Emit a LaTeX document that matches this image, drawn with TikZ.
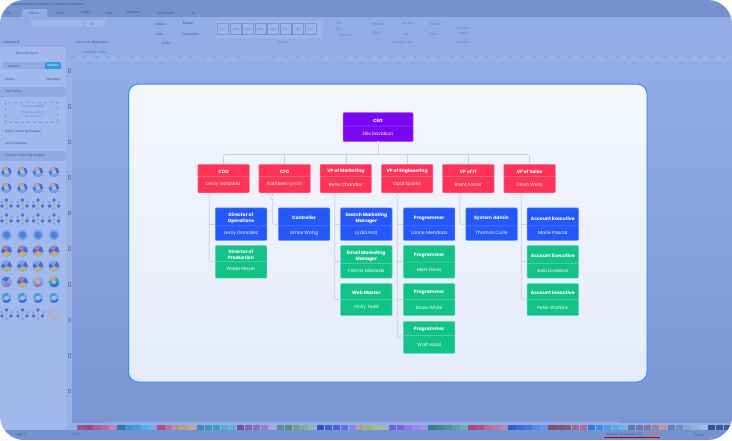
\documentclass[tikz,border=0pt]{standalone}
\usepackage{fontspec}
\setmainfont{Poppins}
\usetikzlibrary{shapes}
\definecolor{cardred}{HTML}{FF3358}
\definecolor{cardredline}{HTML}{FF7A93}
\definecolor{cardblue}{HTML}{2458FA}
\definecolor{cardblueline}{HTML}{5E8CFF}
\definecolor{cardgreen}{HTML}{12C287}
\definecolor{cardgreenline}{HTML}{5CDDB0}
\definecolor{cardviolet}{HTML}{7A06F2}
\definecolor{cardvioletline}{HTML}{A65AFB}
\definecolor{wirecol}{HTML}{C9CFDF}
\definecolor{uitext}{HTML}{3F5590}
\definecolor{uidim}{HTML}{6A82BE}
\definecolor{topband}{HTML}{7592CF}
\definecolor{ribbon}{HTML}{93ACE6}
\definecolor{sidebar}{HTML}{A3B9EE}
\definecolor{rowband}{HTML}{92A9E2}
\definecolor{rulercol}{HTML}{9AB1E8}
\definecolor{ringblue}{HTML}{3F6FD8}
\definecolor{ringsky}{HTML}{6FA6EC}
\definecolor{ringtan}{HTML}{C9A878}
\definecolor{ringrose}{HTML}{A878B8}
\definecolor{ringteal}{HTML}{2FA6B0}
\newcommand{\orgcard}[5][51.5]{\parbox[c][#2pt][c]{#1pt}{\vspace*{2.6pt}\centering\bfseries #3}\nodepart{two}\parbox[c][#4pt][c]{#1pt}{\centering #5}}
\newcommand{\donut}[6]{%
  \draw[line width=#6pt,#3] (#1,#2) circle[radius=3.8];
  \draw[line width=#6pt,#4] (#1,#2) ++(20:3.8) arc[start angle=20,end angle=140,radius=3.8];
  \draw[line width=#6pt,#5] (#1,#2) ++(200:3.8) arc[start angle=200,end angle=290,radius=3.8];}
\newcommand{\pie}[5]{%
  \fill[#3] (#1,#2) circle[radius=5.4];
  \fill[#4] (#1,#2) -- ++(20:5.4) arc[start angle=20,end angle=150,radius=5.4] -- cycle;
  \fill[#5] (#1,#2) -- ++(210:5.4) arc[start angle=210,end angle=300,radius=5.4] -- cycle;}
\newcommand{\cluster}[2]{%
  \fill[ringblue] (#1,#2-4) circle[radius=1.9] (#1-4.5,#2+2) circle[radius=1.9] (#1+4.5,#2+2) circle[radius=1.9];
  \fill[ringtan] (#1,#2) circle[radius=1.9];
  \fill[ringsky] (#1-5,#2-2) circle[radius=1.5] (#1+5,#2-2) circle[radius=1.5] (#1,#2+4.5) circle[radius=1.5];}
\begin{document}
\begin{tikzpicture}[x=1pt,y=-1pt,node distance=61.2pt,
    uilabel/.style={inner sep=0,text=uitext,font=\fontsize{3.2}{4}\selectfont},
    uidimlabel/.style={inner sep=0,text=uidim,font=\fontsize{3.2}{5}\selectfont,align=center},
    rulerlabel/.style={inner sep=0,text=uidim,font=\fontsize{2.4}{3}\selectfont},
    card/.style={rectangle split,rectangle split parts=2,inner sep=0,rounded corners=1pt,
      line width=.5pt,text=white,font=\fontsize{4.6}{6}\selectfont},
    ceocard/.style={card,fill=cardviolet,draw=cardvioletline},
    redcard/.style={card,fill=cardred,draw=cardredline},
    bluecard/.style={card,fill=cardblue,draw=cardblueline},
    greencard/.style={card,fill=cardgreen,draw=cardgreenline},
    knob/.style={circle,minimum size=3.6pt,inner sep=0,fill=white,draw=wirecol,line width=.4pt},
    wire/.style={draw=wirecol,line width=.7pt,rounded corners=2pt}]
  \useasboundingbox (0,0) rectangle (732,440);
  \fill[white] (0,0) rectangle (732,440);
  \begin{scope}
    \clip[rounded corners=24pt] (0,0) rectangle (732,440);
    \fill[topband] (0,0) rectangle (732,17);
    \fill[ribbon] (0,17) rectangle (732,47);
    \fill[ribbon] (0,47) rectangle (732,55);
    \shade[top color=ribbon,bottom color=topband!85!ribbon] (66,55) rectangle (732,430);
    \fill[rulercol] (72,55) rectangle (732,60.5);
    \fill[rulercol] (66,60) rectangle (72,423);
    \fill[sidebar] (0,47) rectangle (66,430);
    \fill[rowband] (0,87) rectangle (66,97);
    \fill[rowband] (0,151) rectangle (66,161);
    \fill[ribbon!80!sidebar] (66,423) rectangle (732,430);
    \fill[uidim!30!ribbon] (106,421) rectangle (620,423);
    \fill[topband] (0,430) rectangle (732,440);
    \fill[ribbon] (22,9) rectangle (47,17);
    \fill[sidebar!70!ribbon] (216,21) rectangle (322,38);
    % palette
    \foreach \c [count=\i from 0] in {8E4A78,A0396E,B0508C,B860A0,C080B8,1F6FA8,2E8FD0,2F9AE0,45B0EA,60B0F0,
        B83F7A,B86A8A,C09080,C0A060,C0B080,2A88A8,1F9AB8,20A0C0,45AAD8,55B0E0,
        70408F,8A50A8,9060B8,A070C8,B0A0E0,4F8A78,4A8A70,6FA070,80B080,98B8A8,
        2040C0,3050D0,4050E0,6060E8,8080F0,B8A060,A8B060,B0C070,A0C0A0,7050E0,
        8050E0,9070F0,A080F0,A090F0,207880,308080,3A9090,50A0A0,60B0B0,B03070,
        B84078,C06090,C07098,C080A8,2050C8,3060D8,3070E8,4A80F0,6090F0,704860,
        804860,8A4870,A06080,B06080,1A70E0,2A88F0,30A0F0,40B0F0,60B8F0,606A98,
        706A98,806A98,A07A90,C09098,6078B0,7088B8,88A0C8,98B0D8,A8C0E0,284080,
        2A4A88,2A5090}{
      \definecolor{palcol}{HTML}{\c}
      \fill[palcol!85!ribbon] (77.3+\i*7.98,424.5) rectangle ++(7.4,5);
    }
    % ruler
    \foreach \n in {-15,...,40}{
      \node[rulerlabel] (rul\n) at (250+\n*11.85,57.7) {\the\numexpr\n*10\relax};
    }
    \foreach \n in {1,...,10}{
      \draw[uidim,line width=.3pt] (68,33+\n*35.6) rectangle ++(2.6,3.5);
    }
    % sidebar charts
    \foreach \cy in {172,188}{
      \foreach \cx in {6.5,22.5,38,54}{
        \donut{\cx}{\cy}{ringblue}{ringsky}{ringtan}{2.4}
      }
    }
    \foreach \cy in {204,219}{
      \foreach \cx in {6.5,22.5,38,54}{
        \cluster{\cx}{\cy}
      }
    }
    \foreach \cx in {6.5,22.5,38,54}{
      \fill[ringsky] (\cx,235) circle[radius=5.4];
      \fill[ringblue!70!ringsky] (\cx,235) circle[radius=3.4];
      \pie{\cx}{251}{ringblue}{ringtan}{ringrose}
      \pie{\cx}{266}{ringblue}{ringtan}{ringsky}
      \donut{\cx}{298}{ringsky}{ringblue}{ringteal}{2.2}
    }
    \pie{6.5}{282}{ringsky}{ringrose}{ringblue}
    \pie{22.5}{282}{ringblue}{ringtan}{ringrose}
    \donut{38}{282}{ringsky}{ringrose}{ringtan}{3}
    \donut{54}{282}{ringteal}{ringblue}{ringtan}{3}
    \cluster{6.5}{314}
    \cluster{22.5}{314}
    \cluster{38}{314}
    \draw[ringtan,line width=.9pt] (54,314) circle[radius=5.2];
    % ribbon boxes
    \fill[sidebar!80!ribbon] (31,20) rectangle (82,27);
    \fill[sidebar!80!ribbon] (85,20) rectangle (105,27);
    \fill[rowband] (2,62) rectangle (45,69);
    \fill[ringblue!70!cyan,rounded corners=1pt] (45,62) rectangle (61,69);
    \draw[uidim!60!sidebar,dashed,line width=.3pt] (5,102) rectangle (57,122);
    \foreach \cx/\txt [count=\i] in {223/Abc,236/Abc,248/Abc,260.7/Abc,273/Abc,285.7/Abc,298/Abc,311/Abc}{
      \node[draw=uidim!60!ribbon,line width=.3pt,minimum size=11pt,rectangle,uidimlabel] (abc\i) at (\cx,29) {\txt};
    }
    \foreach \cx/\cy/\txt [count=\i] in {8/13/File,34/13/Home,60/13/Insert,85/13/Design,109/13/View,133/13/Symbols,166/13/Advanced,193/13/AI,
        48/4/Wondershare EdrawMax (Unlicensed Version),
        92/24/18,161/24/Select,188/24/Shape,159/34/Text,191/34/Connector,
        11/43/Clipboard,92/43/Font and Alignment,166/43/Tools,27/54/More Symbols,
        14/66/Search,10/80/Library,53/80/Manage,14/92/My Library,
        23/132/Basic Drawing Shapes,16/144/Arrow Shapes,25/156/Circular Charting Shapes,
        20/435/Page-1,624/435/Number of shapes: 50/60,699/435/Focus}{
      \node[uilabel] (ui\i) at (\cx,\cy) {\txt};
    }
    \foreach \cx/\cy/\txt [count=\i] in {339/23/Fill,339/29/Line,345/35/Shadow,378/24/Position,407/24/Group,435/24/Rotate,
        376/34/Align,406/34/Size,433/34/Lock,283/43/Styles,402/43/Arrangement,463/43/Replace,
        463/29/Replace,463/34/Shape,33/107/Drag symbols,33/112/here to add to,33/117/My Library}{
      \node[uidimlabel] (dim\i) at (\cx,\cy) {\txt};
    }
    \node[uilabel,text=white] (searchbtn) at (53,65.5) {Search};
    \node[uilabel,text=ringblue] (doctab) at (96,52) {Aviation Produ...};
    \node[uilabel,text=ringblue] (pagetab) at (78,435) {Page-1};
    \node[uilabel,text=orange!80!red] (buynow) at (655,435) {Buy Now};
    \draw[red!70!black,line width=.5pt] (604,437.3) -- (660,437.3);
    % card
    \shade[top color=white!90!ribbon,bottom color=white!76!ribbon,draw=blue!50!cyan!85!white,line width=1pt,rounded corners=10pt] (128.5,84) rectangle (647,382);
  \end{scope}

  \node[ceocard] (ceo) at (378,127) {\orgcard[70]{13}{CEO}{15}{Ellis Davidson}};

  \node[redcard] (cdo) at (223.5,178.5) {\orgcard{11.5}{CDO}{16}{Leroy Gonzalez}};
  \node[redcard] (cfo) [right of=cdo] {\orgcard{11.5}{CFO}{16}{Kathleen Lynch}};
  \node[redcard] (mkt) [right of=cfo] {\orgcard{11.5}{VP of Marketing}{16}{Rene Chandler}};
  \node[redcard] (eng) [right of=mkt] {\orgcard{11.5}{VP of Engineering}{16}{Opal Sparks}};
  \node[redcard] (vpit) [right of=eng] {\orgcard{11.5}{VP of IT}{16}{Brent Foster}};
  \node[redcard] (sales) [right of=vpit] {\orgcard{11.5}{VP of Sales}{16}{Devin Wells}};

  \node[bluecard] (ops) at (241,224.2) {\orgcard{17.5}{Director of\\Operations}{14}{Leroy Gonzalez}};
  \node[greencard] (prod) [below of=ops,node distance=37.6pt] {\orgcard{15.5}{Director of\\Production}{16}{Wade Meyer}};
  \node[bluecard] (ctrl) at (304,224.2) {\orgcard{17.5}{Controller}{14}{Amos Wong}};
  \node[bluecard] (search) at (366.3,224.2) {\orgcard{17.5}{Search Marketing\\Manager}{14}{Lydia Holt}};
  \node[greencard] (email) [below of=search,node distance=37.6pt] {\orgcard{17.5}{Email Marketing\\Manager}{14}{Fannie Edwards}};
  \node[greencard] (web) [below of=email,node distance=37.8pt] {\orgcard{15.5}{Web Master}{15.5}{Vicky Todd}};
  \node[bluecard] (prog1) at (429.2,224.2) {\orgcard{17.5}{Programmer}{14}{Lonce Mendoza}};
  \node[greencard] (prog2) [below of=prog1,node distance=37.6pt] {\orgcard{16}{Programmer}{15.5}{Mark Davis}};
  \node[greencard] (prog3) [below of=prog2,node distance=37.8pt] {\orgcard{15.5}{Programmer}{15.5}{Snow White}};
  \node[greencard] (prog4) [below of=prog3,node distance=37.8pt] {\orgcard{13.5}{Programmer}{17.5}{Walt Hood}};
  \node[bluecard] (admin) at (491.5,224.2) {\orgcard{17.5}{System Admin}{14}{Thomas Curle}};
  \node[bluecard] (acc1) at (552.8,224.2) {\orgcard{17.5}{Account Executive}{14}{Marie Pascal}};
  \node[greencard] (acc2) [below of=acc1,node distance=37.6pt] {\orgcard{17.5}{Account Executive}{14}{Ada Lovelace}};
  \node[greencard] (acc3) [below of=acc2,node distance=37.8pt] {\orgcard{15.5}{Account Executive}{15.5}{Peter Watkins}};

  \coordinate (bus) at (378,154.5);
  \node[knob] (ceoknob) at (378,143) {};
  \node[knob] (cdoknob) at (209.3,197.5) {};
  \node[knob] (cfoknob) at (272.3,197.5) {};
  \node[knob] (mktknob) at (334.7,197.5) {};
  \node[knob] (engknob) at (397.3,197.5) {};
  \node[knob] (vpitknob) at (459.7,197.5) {};
  \node[knob] (salesknob) at (521.3,197.5) {};

  \path[wire]
    (ceoknob) edge (bus)
    (cfo.north) edge (cfo.north |- bus)
    (mkt.north) edge (mkt.north |- bus)
    (eng.north) edge (eng.north |- bus)
    (vpit.north) edge (vpit.north |- bus)
    (ceo.south) edge (ceoknob)
    (cdo.south -| cdoknob) edge (cdoknob)
    (cfo.south -| cfoknob) edge (cfoknob)
    (mkt.south -| mktknob) edge (mktknob)
    (eng.south -| engknob) edge (engknob)
    (vpit.south -| vpitknob) edge (vpitknob)
    (sales.south -| salesknob) edge (salesknob)
    ;
  \draw[wire] (cdo.north) |- (bus);
  \draw[wire] (sales.north) |- (bus);
  \draw[wire] (cdoknob) |- (prod.west);
  \draw[wire] (ops.west -| cdoknob) -- (ops.west);
  \draw[wire] (cfoknob) |- (ctrl.west);
  \draw[wire] (mktknob) |- (web.west);
  \draw[wire] (search.west -| mktknob) -- (search.west);
  \draw[wire] (email.west -| mktknob) -- (email.west);
  \draw[wire] (engknob) |- (prog4.west);
  \draw[wire] (prog1.west -| engknob) -- (prog1.west);
  \draw[wire] (prog2.west -| engknob) -- (prog2.west);
  \draw[wire] (prog3.west -| engknob) -- (prog3.west);
  \draw[wire] (vpitknob) |- (admin.west);
  \draw[wire] (salesknob) |- (acc3.west);
  \draw[wire] (acc1.west -| salesknob) -- (acc1.west);
  \draw[wire] (acc2.west -| salesknob) -- (acc2.west);
\end{tikzpicture}
\end{document}
